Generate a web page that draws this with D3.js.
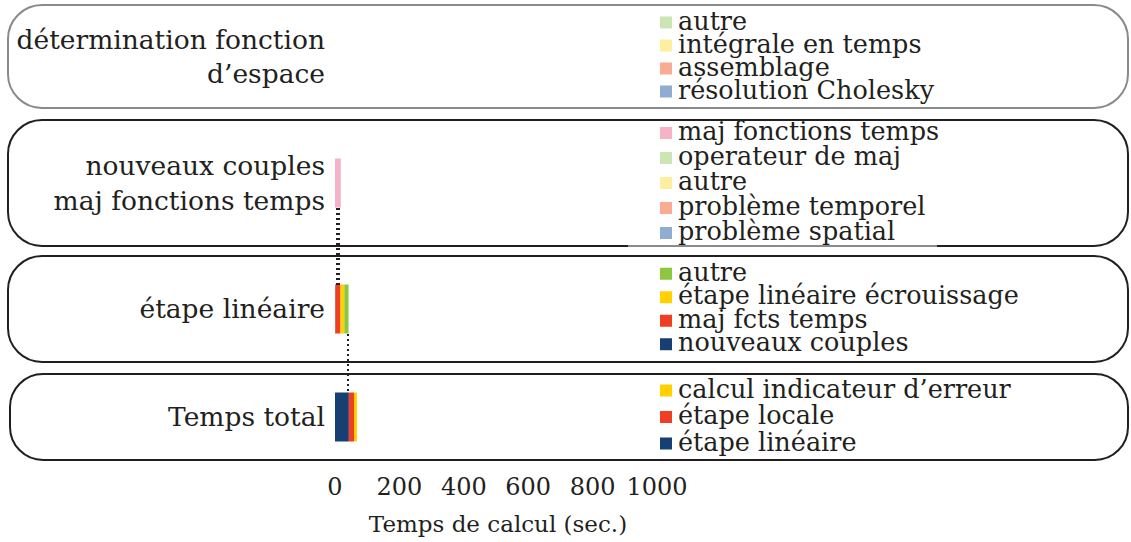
<!DOCTYPE html>
<html>
<head>
<meta charset="utf-8">
<script src="https://cdn.jsdelivr.net/npm/d3@7"></script>
<style>
  html, body { margin: 0; padding: 0; background: #fff; }
  svg { display: block; }
  text { font-family: "DejaVu Serif", serif; fill: #231f20; }
</style>
</head>
<body>
<svg id="chart" width="1131" height="542"></svg>
<script>
// ---------- DATA ----------
const rowNames = ["espace", "maj", "lineaire", "total"];
const rowLabels = [
  ["détermination fonction", "d’espace"],
  ["nouveaux couples", "maj fonctions temps"],
  ["étape linéaire"],
  ["Temps total"]
];

// series listed in stacking order (left to right)
const espaceSeries = ["résolution Cholesky", "assemblage", "intégrale en temps", "autre"];
const espaceValues = [0, 0, 0, 0];

const majSeries = ["problème spatial", "problème temporel", "autre", "operateur de maj", "maj fonctions temps"];
const majValues = [0, 0, 0, 0, 18];

const lineaireSeries = ["nouveaux couples", "maj fcts temps", "étape linéaire écrouissage", "autre"];
const lineaireValues = [1, 16, 12, 13];

const totalSeries = ["étape linéaire", "étape locale", "calcul indicateur d’erreur"];
const totalValues = [43, 16, 9];

const xTicks = [0, 200, 400, 600, 800, 1000];
const xTitle = "Temps de calcul (sec.)";

// ---------- STYLE ----------
const espaceColors = ["#8fadd0", "#f8ac96", "#fdeea0", "#cce5b4"];
const majColors = ["#8fadd0", "#f8ac96", "#fdeea0", "#cce5b4", "#f6b3c8"];
const lineaireColors = ["#173f73", "#ef3e23", "#ffd100", "#8dc63f"];
const totalColors = ["#173f73", "#ef3e23", "#ffd100"];

// ---------- LAYOUT ----------
const boxes = {
  espace:   {top: 5,   bottom: 108, left: 8,  right: 1128, stroke: "#8a8a8a", legendStep: 23, labelStep: 34},
  maj:      {top: 120, bottom: 246, left: 8,  right: 1128, stroke: "#231f20", legendStep: 25, labelStep: 35},
  lineaire: {top: 256, bottom: 362, left: 8,  right: 1128, stroke: "#231f20", legendStep: 23.5, labelStep: 34},
  total:    {top: 374, bottom: 460, left: 10, right: 1128, stroke: "#231f20", legendStep: 26.5, labelStep: 34}
};
const groups = {
  espace:   {series: espaceSeries,   values: espaceValues,   colors: espaceColors},
  maj:      {series: majSeries,      values: majValues,      colors: majColors},
  lineaire: {series: lineaireSeries, values: lineaireValues, colors: lineaireColors},
  total:    {series: totalSeries,    values: totalValues,    colors: totalColors}
};

const svg = d3.select("#chart");
const x = d3.scaleLinear().domain([0, 1000]).range([335, 657]);
const barH = 49;
const labelSize = 26.5;
const legendSize = 25.5;
const tickSize = 24;
const titleSize = 23;

// boxes
rowNames.forEach((name, i) => {
  const b = boxes[name];
  const h = b.bottom - b.top;
  svg.append("rect")
    .attr("x", b.left).attr("y", b.top)
    .attr("width", b.right - b.left).attr("height", h)
    .attr("rx", Math.min(34, h / 2.6)).attr("ry", Math.min(34, h / 2.6))
    .attr("fill", "#fff")
    .attr("stroke", b.stroke).attr("stroke-width", 2);
});

// bars and legends
const barExtents = {};
rowNames.forEach((name, i) => {
  const b = boxes[name];
  const g = groups[name];
  const cy = Math.round((b.top + b.bottom) / 2);
  const row = {};
  g.series.forEach((s, j) => row[s] = g.values[j]);
  const stacked = d3.stack().keys(g.series.map((s, j) => j))
    .value((d, k) => g.values[k])([row]);
  barExtents[name] = stacked.map(l => [l[0][0], l[0][1]]);
  svg.append("g").selectAll("rect")
    .data(stacked)
    .join("rect")
    .attr("x", d => x(d[0][0]))
    .attr("y", cy - barH / 2)
    .attr("width", d => Math.max(0, x(d[0][1]) - x(d[0][0])))
    .attr("height", barH)
    .attr("fill", (d, j) => g.colors[j]);

  // category label
  const lines = rowLabels[i];
  const lab = svg.append("text")
    .attr("text-anchor", "end")
    .attr("font-size", labelSize);
  lines.forEach((t, k) => {
    lab.append("tspan")
      .attr("x", 325)
      .attr("y", cy + 9 + (k - (lines.length - 1) / 2) * b.labelStep)
      .text(t);
  });

  // legend (reverse order: last series on top)
  const n = g.series.length;
  const legTop = cy - (n - 1) / 2 * b.legendStep;
  const items = g.series.map((s, j) => ({s, c: g.colors[j]})).reverse();
  const lg = svg.append("g");
  items.forEach((it, k) => {
    const by = legTop + k * b.legendStep + 7;
    lg.append("rect").attr("x", 660).attr("y", by - 13)
      .attr("width", 12).attr("height", 12).attr("fill", it.c);
    lg.append("text").attr("x", 678).attr("y", by)
      .attr("font-size", legendSize).text(it.s);
  });
});

// legend frame fragment at bottom of "maj" legend
svg.append("line")
  .attr("x1", 628).attr("x2", 937)
  .attr("y1", boxes.maj.bottom).attr("y2", boxes.maj.bottom)
  .attr("stroke", "#8a8a8a").attr("stroke-width", 2);

// dotted connectors
const dot = (x0, y0, y1) => svg.append("line")
  .attr("x1", Math.round(x0)).attr("x2", Math.round(x0))
  .attr("y1", Math.round(y0)).attr("y2", Math.round(y1))
  .attr("stroke", "#231f20").attr("stroke-width", 2)
  .attr("stroke-dasharray", "2,3");

const majCy = Math.round((boxes.maj.top + boxes.maj.bottom) / 2);
const linCy = Math.round((boxes.lineaire.top + boxes.lineaire.bottom) / 2);
const totCy = Math.round((boxes.total.top + boxes.total.bottom) / 2);
// étape linéaire segment [nouveaux couples + maj fcts temps] -> row above
const linSub = [barExtents.lineaire[0][0], barExtents.lineaire[1][1]];
dot(x(linSub[0]) + 2, majCy + barH / 2, linCy - barH / 2);
dot(x(linSub[1]) - 1, majCy + barH / 2, linCy - barH / 2);
// total étape linéaire segment end -> étape linéaire row
dot(x(barExtents.total[0][1]) - 1, linCy + barH / 2, totCy - barH / 2);

// x axis tick labels
svg.append("g").selectAll("text")
  .data(xTicks)
  .join("text")
  .attr("x", d => x(d))
  .attr("y", 495)
  .attr("text-anchor", "middle")
  .attr("font-size", tickSize)
  .text(d => d);

svg.append("text")
  .attr("x", 498).attr("y", 532)
  .attr("text-anchor", "middle")
  .attr("font-size", titleSize)
  .text(xTitle);
</script>
</body>
</html>
